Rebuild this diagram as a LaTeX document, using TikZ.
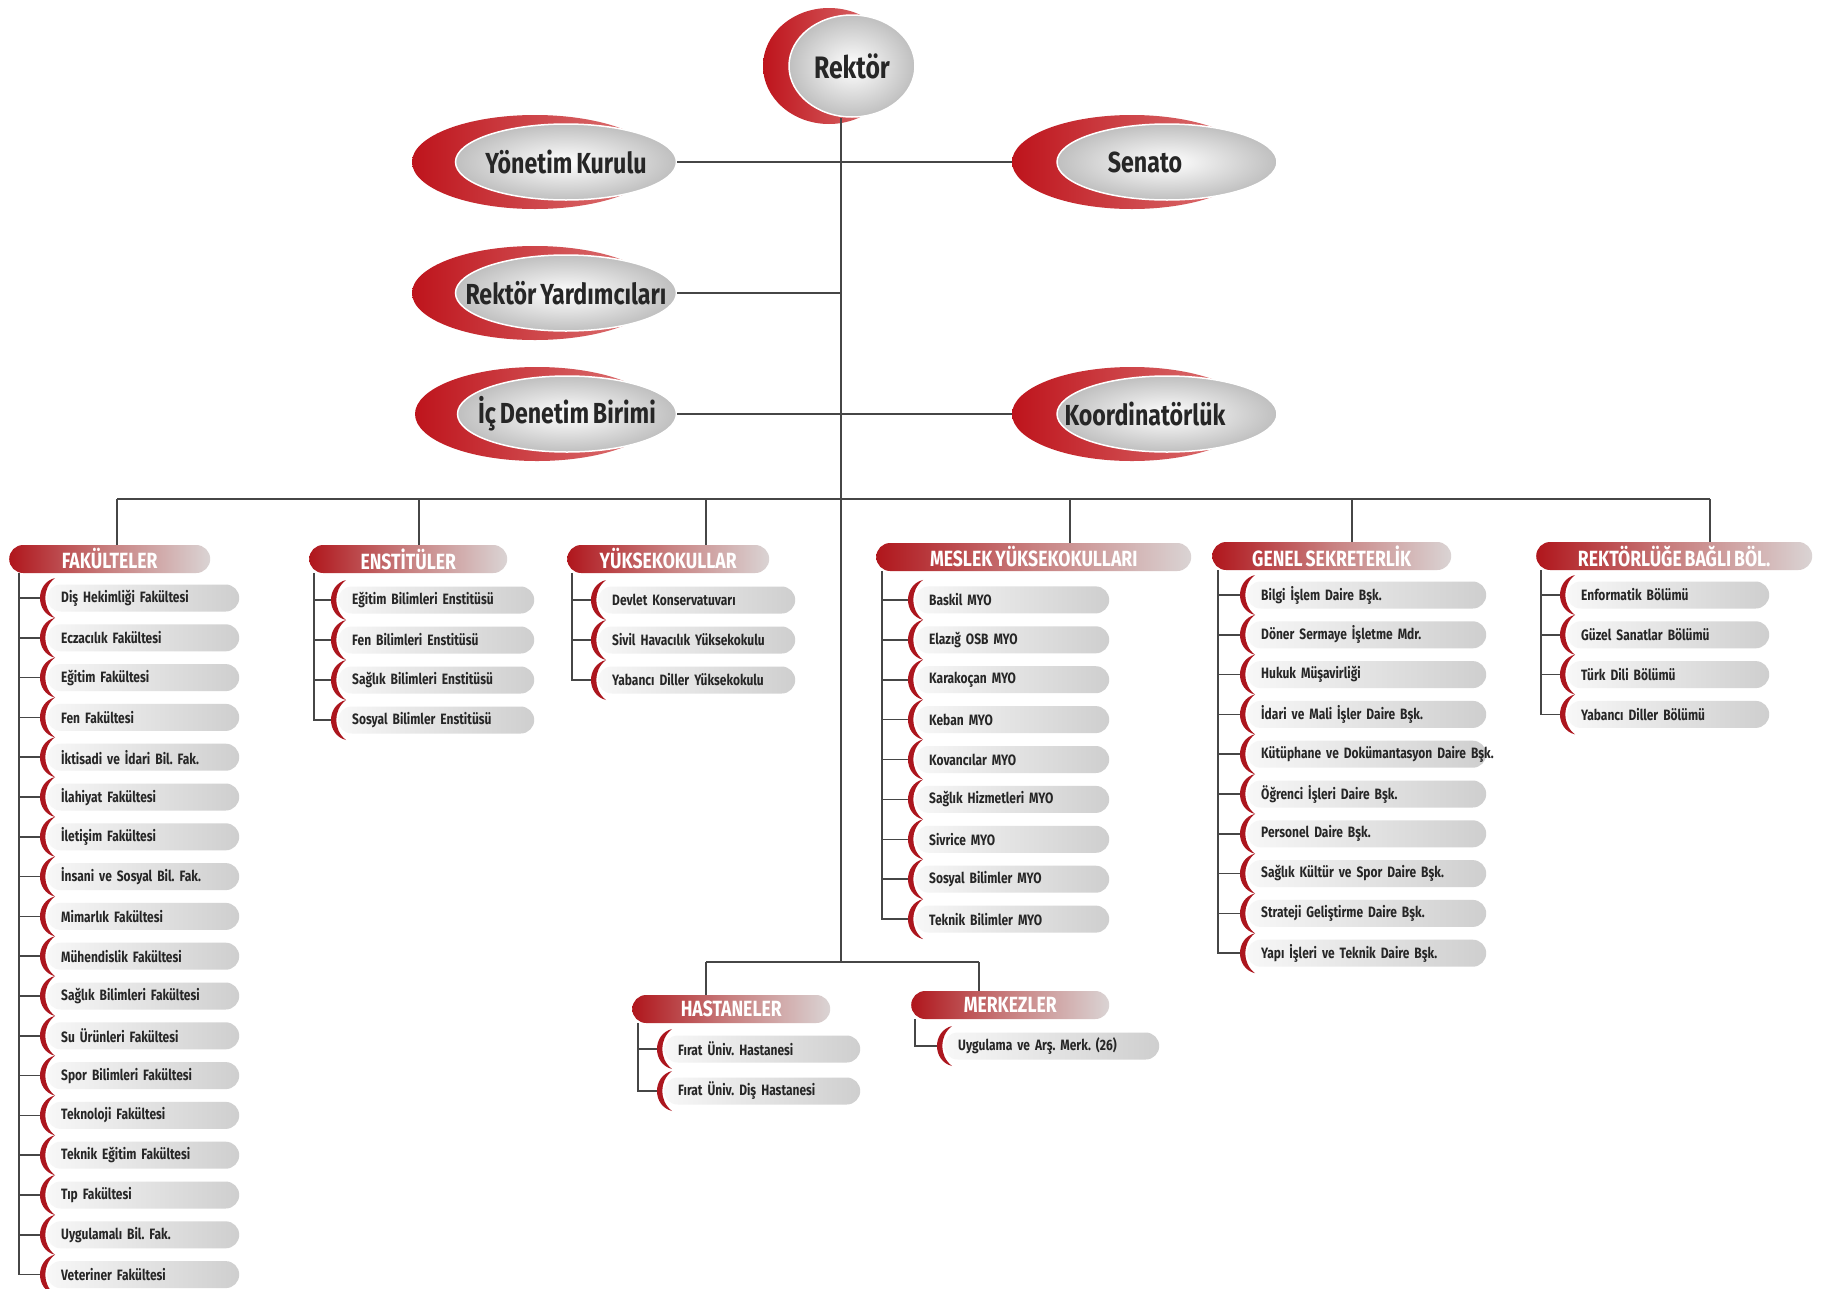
\documentclass[tikz,border=0pt]{standalone}
\usepackage{fontspec}
\setmainfont{Fira Sans}[FakeStretch=0.8, WordSpace=0.7]
\usepackage{tikz}
\usetikzlibrary{shapes.geometric}
\frenchspacing

\definecolor{linegray}{RGB}{70,70,70}
\definecolor{moonred}{RGB}{172,22,30}
\definecolor{ballred}{RGB}{190,20,28}
\definecolor{ballpink}{RGB}{222,120,120}
\definecolor{hdrred}{RGB}{176,22,28}
\definecolor{hdrmid}{RGB}{200,128,128}
\definecolor{hdrend}{RGB}{218,212,212}

% red crescent on the left end of a unit
\newcommand{\moon}[1]{%
  \fill[moonred] (#1.west) ++(8,-20) .. controls +(-20,5) and +(-20,-5) .. ++(0,40)
    .. controls +(-13,-10) and +(-13,10) .. ++(0,-40) -- cycle;}

\begin{document}
\begin{tikzpicture}[
    x=1pt, y=-1pt,
    link/.style={draw=linegray, line width=1.6pt},
    redball/.style={ellipse, left color=ballred, right color=ballpink, inner sep=0pt},
    ball/.style={ellipse, inner color=white, outer color=gray!50, draw=white, line width=1.5pt,
      inner sep=0pt, text=black!85, font=\bfseries\fontsize{29}{32}\selectfont,
      execute at begin node={\hbox to 0pt\bgroup\hss}, execute at end node={\hss\egroup}},
    head/.style={rectangle, anchor=west, rounded corners=14pt, minimum height=28pt, inner sep=0pt,
      left color=hdrred, right color=hdrend, middle color=hdrmid, text=white,
      font=\bfseries\fontsize{22}{24}\selectfont},
    unit/.style={rectangle, anchor=west, rounded corners=13.5pt, minimum height=27pt, inner xsep=14pt,
      inner ysep=0pt, align=left, left color=gray!6, right color=gray!38, text=black!85,
      font=\bfseries\fontsize{15}{17}\selectfont}
  ]
  \fill[white] (0,0) rectangle (1827,1288);
  \useasboundingbox (0,0) rectangle (1827,1288);

  % Top level
  \node[redball, minimum width=132pt, minimum height=116pt] (rk-r) at (829,66) {};
  \node[ball, minimum width=126pt, minimum height=102pt, font=\bfseries\fontsize{31}{34}\selectfont] (rk) at (852,66) {Rektör};
  \node[redball, minimum width=246pt, minimum height=94pt] (yk-r) at (535,162) {};
  \node[ball, minimum width=221pt, minimum height=76pt] (yk) at (566,162) {Yönetim Kurulu};
  \node[redball, minimum width=240pt, minimum height=94pt] (sen-r) at (1132,162) {};
  \node[ball, minimum width=220pt, minimum height=76pt] (sen) at (1167,162) {\kern-44pt Senato};
  \node[redball, minimum width=246pt, minimum height=94pt] (ry-r) at (535,293) {};
  \node[ball, minimum width=221pt, minimum height=76pt] (ry) at (566,293) {Rektör Yardımcıları};
  \node[redball, minimum width=244pt, minimum height=94pt] (id-r) at (537,414) {};
  \node[ball, minimum width=219pt, minimum height=76pt] (id) at (567,414) {İç Denetim Birimi};
  \node[redball, minimum width=240pt, minimum height=94pt] (ko-r) at (1132,414) {};
  \node[ball, minimum width=220pt, minimum height=76pt] (ko) at (1167,414) {\kern-44pt Koordinatörlük};

  % Headers
  \node[head, minimum width=201pt] (fak) at (9,559) {FAKÜLTELER};
  \node[head, minimum width=198pt] (ens) at (309,559) {ENSTİTÜLER};
  \node[head, minimum width=202pt] (yuk) at (567,559) {YÜKSEKOKULLAR};
  \node[head, minimum width=315pt] (mes) at (876,557) {MESLEK YÜKSEKOKULLARI};
  \node[head, minimum width=239pt] (gen) at (1212,556) {GENEL SEKRETERLİK};
  \node[head, minimum width=276pt] (rek) at (1536,556) {REKTÖRLÜĞE BAĞLI BÖL.};
  \node[head, minimum width=198pt] (has) at (632,1009) {HASTANELER};
  \node[head, minimum width=198pt] (mer) at (911,1005) {MERKEZLER};

  % Units
  \foreach \txt [count=\i] in {Diş Hekimliği Fakültesi, Eczacılık Fakültesi, Eğitim Fakültesi,
      Fen Fakültesi, İktisadi ve İdari Bil. Fak., İlahiyat Fakültesi, İletişim Fakültesi,
      İnsani ve Sosyal Bil. Fak., Mimarlık Fakültesi, Mühendislik Fakültesi,
      Sağlık Bilimleri Fakültesi, Su Ürünleri Fakültesi, Spor Bilimleri Fakültesi,
      Teknoloji Fakültesi, Teknik Eğitim Fakültesi, Tıp Fakültesi, Uygulamalı Bil. Fak.,
      Veteriner Fakültesi}{
    \node[unit, text width=164pt] (fak-\i) at (47,558.2+39.8*\i) {\mbox{\txt}};
    \draw[link, shorten >=7pt] ([xshift=10pt]fak.south west) |- (fak-\i.west);
    \moon{fak-\i}
  }
  \foreach \txt [count=\i] in {Eğitim Bilimleri Enstitüsü, Fen Bilimleri Enstitüsü,
      Sağlık Bilimleri Enstitüsü, Sosyal Bilimler Enstitüsü}{
    \node[unit, text width=168pt] (ens-\i) at (338,560+40*\i) {\mbox{\txt}};
    \draw[link, shorten >=7pt] ([xshift=5pt]ens.south west) |- (ens-\i.west);
    \moon{ens-\i}
  }
  \foreach \txt [count=\i] in {Devlet Konservatuvarı, Sivil Havacılık Yüksekokulu,
      Yabancı Diller Yüksekokulu}{
    \node[unit, text width=169pt] (yuk-\i) at (598,560+40*\i) {\mbox{\txt}};
    \draw[link, shorten >=7pt] ([xshift=5pt]yuk.south west) |- (yuk-\i.west);
    \moon{yuk-\i}
  }
  \foreach \txt [count=\i] in {Baskil MYO, Elazığ OSB MYO, Karakoçan MYO, Keban MYO,
      Kovancılar MYO, Sağlık Hizmetleri MYO, Sivrice MYO, Sosyal Bilimler MYO,
      Teknik Bilimler MYO}{
    \node[unit, text width=166pt] (mes-\i) at (915,560+39.9*\i) {\mbox{\txt}};
    \draw[link, shorten >=7pt] ([xshift=6pt]mes.south west) |- (mes-\i.west);
    \moon{mes-\i}
  }
  \foreach \txt [count=\i] in {Bilgi İşlem Daire Bşk., Döner Sermaye İşletme Mdr.,
      Hukuk Müşavirliği, İdari ve Mali İşler Daire Bşk., Kütüphane ve Dokümantasyon Daire Bşk.,
      Öğrenci İşleri Daire Bşk., Personel Daire Bşk., Sağlık Kültür ve Spor Daire Bşk.,
      Strateji Geliştirme Daire Bşk., Yapı İşleri ve Teknik Daire Bşk.}{
    \node[unit, text width=211pt] (gen-\i) at (1247,555.2+39.8*\i) {\mbox{\txt}};
    \draw[link, shorten >=7pt] ([xshift=6pt]gen.south west) |- (gen-\i.west);
    \moon{gen-\i}
  }
  \foreach \txt [count=\i] in {Enformatik Bölümü, Güzel Sanatlar Bölümü, Türk Dili Bölümü,
      Yabancı Diller Bölümü}{
    \node[unit, text width=174pt] (rek-\i) at (1567,555.2+39.8*\i) {\mbox{\txt}};
    \draw[link, shorten >=7pt] ([xshift=5pt]rek.south west) |- (rek-\i.west);
    \moon{rek-\i}
  }
  \foreach \txt [count=\i] in {Fırat Üniv. Hastanesi, Fırat Üniv. Diş Hastanesi}{
    \node[unit, text width=168pt] (has-\i) at (664,1007+42*\i) {\mbox{\txt}};
    \draw[link, shorten >=7pt] ([xshift=6pt]has.south west) |- (has-\i.west);
    \moon{has-\i}
  }
  \node[unit, text width=187pt] (mer-1) at (944,1046) {\mbox{Uygulama ve Arş. Merk. (26)}};
  \draw[link, shorten >=7pt] ([xshift=4pt]mer.south west) |- (mer-1.west);
  \moon{mer-1}

  % Connectors
  \coordinate (sp) at (841,962);
  \draw[link] (sp |- rk.south) -- (sp);
  \draw[link] (yk.east) -- (sen-r.west);
  \draw[link] (ry.east) -- (ry.east -| sp);
  \draw[link] (id.east) -- (ko-r.west);

  \coordinate (d1) at (117,499);
  \coordinate (d2) at (419,499);
  \coordinate (d3) at (706,499);
  \coordinate (d4) at (1070,499);
  \coordinate (d5) at (1352,499);
  \coordinate (d6) at (1710,499);
  \draw[link] (d1) -- (d6);
  \foreach \d/\g in {d1/fak, d2/ens, d3/yuk, d4/mes, d5/gen, d6/rek}
    \draw[link] (\d) -- (\d |- \g.north);

  \coordinate (h1) at (706,962);
  \coordinate (h2) at (979,962);
  \draw[link] (h1) -- (h2);
  \draw[link] (h1) -- (h1 |- has.north);
  \draw[link] (h2) -- (h2 |- mer.north);

\end{tikzpicture}
\end{document}
